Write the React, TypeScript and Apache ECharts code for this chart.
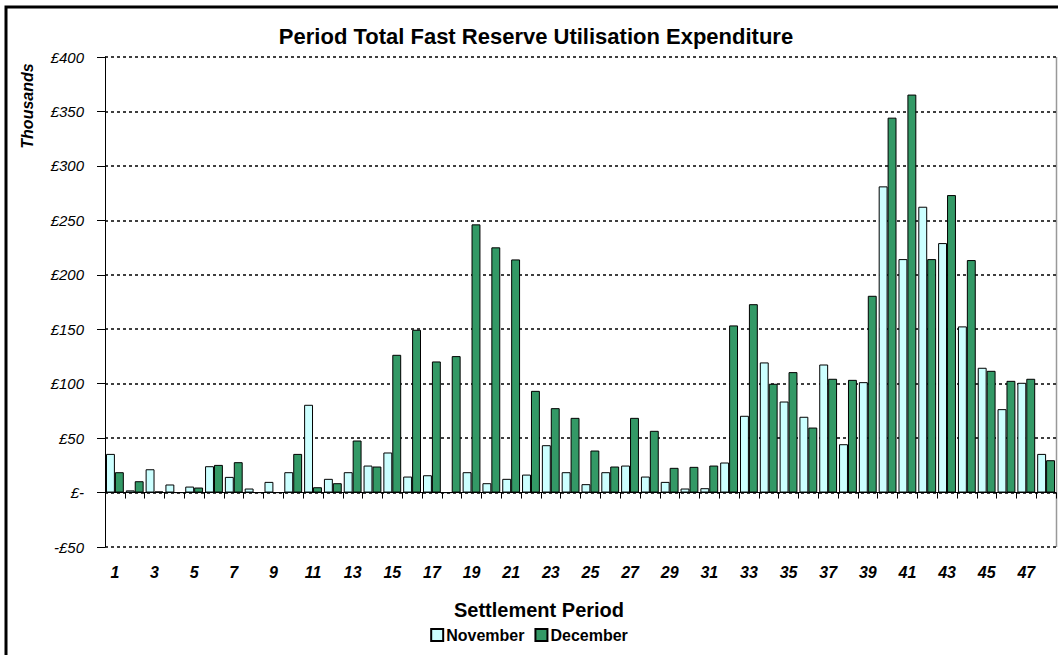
import React, { useEffect, useRef } from "react";
import * as echarts from "echarts";

const periods: string[] = Array.from({ length: 48 }, (_, i) => String(i + 1));

const november: number[] = [
  35.5, 2, 21.4, 7.4, 5.5, 24.2, 14.4, 3.7, 9.8, 18.7, 80.6, 12.6,
  18.7, 24.8, 36.8, 14.7, 15.9, 0, 18.7, 8.6, 12.6, 16.5, 43.5, 18.7,
  7.7, 18.7, 24.8, 14.7, 9.8, 3.7, 4, 27.6, 70.5, 119.5, 83.6, 69.6,
  117.6, 44.4, 101.4, 281.2, 214.4, 262.5, 229.1, 152.6, 114.6, 76.6, 100.8, 35.5,
];

const december: number[] = [
  18.7, 10.4, 1, 0, 4.6, 25.4, 27.9, 0, 0, 35.5, 4.9, 8.6,
  47.8, 23.9, 126.5, 149.5, 120.4, 125.3, 246.3, 225.2, 214.1, 93.4, 77.5, 68.6,
  38.6, 23.9, 68.6, 56.7, 22.7, 23.6, 24.8, 153.5, 173, 99.9, 110.6, 59.7,
  104.5, 103.5, 180.7, 344.3, 365.5, 214.4, 273.2, 213.5, 111.8, 102.6, 104.5, 29.7,
];

const yMin = -50;
const yMax = 400;
const yStep = 50;

const FONT = "'Liberation Sans', Arial, sans-serif";

export default function App() {
  const ref = useRef<HTMLDivElement>(null);

  useEffect(() => {
    if (!ref.current) return;
    const chart = echarts.init(ref.current, null, { renderer: "svg" });
    chart.setOption({
      animation: false,
      backgroundColor: "#ffffff",
      textStyle: { fontFamily: FONT },
      legend: {
        data: ["November", "December"],
        top: 622,
        left: "center",
        itemWidth: 12,
        itemHeight: 12,
        itemGap: 10,
        icon: "rect",
        textStyle: { fontFamily: FONT, fontSize: 16, fontWeight: "bold", color: "#000", padding: [0, 0, 0, -2] },
      },
      grid: { left: 105, right: 2, top: 57, bottom: 108, containLabel: false },
      xAxis: [
        {
          type: "category",
          data: periods,
          boundaryGap: true,
          axisLine: { show: true, onZero: true, lineStyle: { color: "#000", width: 1 } },
          axisTick: { show: true, interval: 0, length: 6, lineStyle: { color: "#000" } },
          axisLabel: { show: false },
          splitLine: { show: false },
        },
        {
          type: "category",
          data: periods,
          position: "bottom",
          boundaryGap: true,
          axisLine: { show: false, onZero: false },
          axisTick: { show: false },
          axisLabel: {
            show: true,
            interval: 1,
            margin: 17,
            fontFamily: FONT,
            fontSize: 16,
            fontWeight: "bold",
            fontStyle: "italic",
            color: "#000",
          },
          splitLine: { show: false },
        },
      ],
      yAxis: {
        type: "value",
        min: yMin,
        max: yMax,
        interval: yStep,
        axisLine: { show: true, lineStyle: { color: "#000", width: 1 } },
        axisTick: { show: true, length: 8, lineStyle: { color: "#000" } },
        axisLabel: {
          margin: 21,
          fontFamily: FONT,
          fontSize: 15,
          fontStyle: "italic",
          color: "#000",
          formatter: (v: number) => (v === 0 ? "£-" : v < 0 ? "-£" + Math.abs(v) : "£" + v),
        },
        splitLine: { show: true, lineStyle: { color: "#000", type: [3, 3], width: 1.5 } },
      },
      graphic: [
        {
          type: "rect",
          shape: { x: 6, y: 7, width: 1070, height: 680 },
          style: { fill: "none", stroke: "#000", lineWidth: 3 },
          silent: true,
        },
        {
          type: "line",
          shape: { x1: 1056.5, y1: 57, x2: 1056.5, y2: 547 },
          style: { stroke: "#999", lineWidth: 1.5 },
          silent: true,
        },
        {
          type: "text",
          x: 536,
          y: 36,
          style: {
            text: "Period Total Fast Reserve Utilisation Expenditure",
            fontFamily: FONT,
            fontSize: 22,
            fontWeight: "bold",
            fill: "#000",
            align: "center",
            verticalAlign: "middle",
          },
        },
        {
          type: "text",
          x: 27.5,
          y: 106,
          rotation: Math.PI / 2,
          style: {
            text: "Thousands",
            fontFamily: FONT,
            fontSize: 16,
            fontWeight: "bold",
            fontStyle: "italic",
            fill: "#000",
            align: "center",
            verticalAlign: "middle",
          },
        },
        {
          type: "text",
          x: 539,
          y: 610,
          style: {
            text: "Settlement Period",
            fontFamily: FONT,
            fontSize: 20,
            fontWeight: "bold",
            fill: "#000",
            align: "center",
            verticalAlign: "middle",
          },
        },
      ],
      series: [
        {
          name: "November",
          type: "bar",
          xAxisIndex: 0,
          data: november,
          barGap: "0%",
          barCategoryGap: "10%",
          itemStyle: { color: "#CCFFFF", borderColor: "#000", borderWidth: 1 },
        },
        {
          name: "December",
          type: "bar",
          xAxisIndex: 0,
          data: december,
          barGap: "0%",
          barCategoryGap: "10%",
          itemStyle: { color: "#339966", borderColor: "#000", borderWidth: 1 },
        },
      ],
    });
    return () => chart.dispose();
  }, []);

  return (
    <div
      ref={ref}
      style={{ position: "fixed", left: 0, top: 0, width: 1058, height: 655 }}
    />
  );
}
